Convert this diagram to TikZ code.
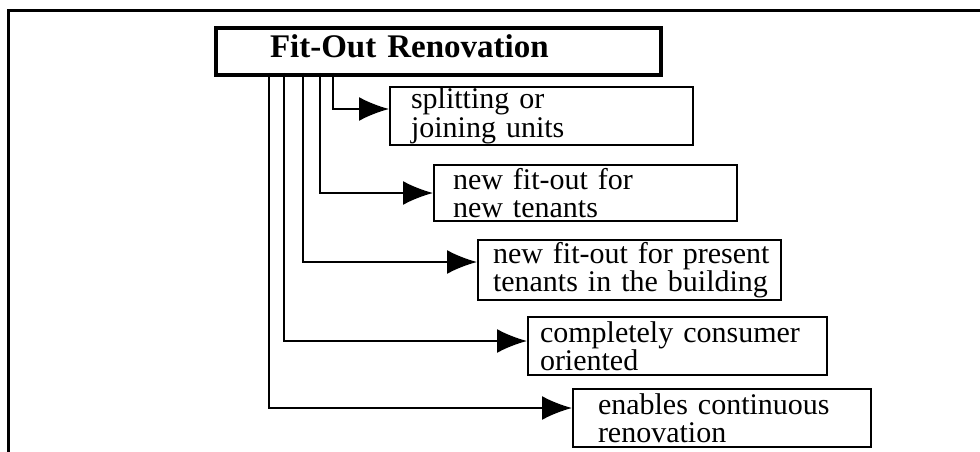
\documentclass[tikz,border=0pt]{standalone}
\usepackage{fontspec}
\setmainfont{Liberation Serif}
\usetikzlibrary{arrows.meta}
\begin{document}
\begin{tikzpicture}[x=1pt,y=-1pt,
  item/.style={draw, line width=2pt, anchor=north west, inner ysep=0pt, align=left,
    font=\fontsize{30}{28.5}\selectfont},
  conn/.style={line width=2pt, -{Latex[length=30pt,width=24pt]}}]
\useasboundingbox (0,0) rectangle (980,452);
\draw[line width=3pt] (8,452) -- (8,11) -- (980,11);
\node[draw, line width=4pt, anchor=north west, minimum height=47pt, inner xsep=54pt,
  text width=337pt, align=left, text depth=11pt, inner ysep=0pt,
  font=\fontsize{33}{36}\selectfont\bfseries] (title) at (214,26) {Fit-Out Renovation};
\node[item, minimum height=58pt, inner xsep=21pt, text width=261pt] (b1) at (389,86) {\mbox{splitting or}\\\mbox{joining units}};
\node[item, minimum height=56pt, inner xsep=19pt, text width=265pt] (b2) at (433,164) {\mbox{new fit-out for}\\\mbox{new tenants}};
\node[item, minimum height=60pt, inner xsep=15pt, text width=273pt] (b3) at (477,239) {\mbox{new fit-out for present}\\\mbox{tenants in the building}};
\node[item, minimum height=58pt, inner xsep=12pt, text width=275pt] (b4) at (527,316) {\mbox{completely consumer}\\\mbox{oriented}};
\node[item, minimum height=58pt, inner xsep=25pt, text width=248pt] (b5) at (572,388) {\mbox{enables continuous}\\\mbox{renovation}};
\coordinate (v1) at (333,73);
\coordinate (v2) at (320,73);
\coordinate (v3) at (303,73);
\coordinate (v4) at (284,73);
\coordinate (v5) at (269,73);
\draw[conn] (v1) |- ([yshift=7pt]b1.west);
\draw[conn] (v2) |- (b2.west);
\draw[conn] (v3) |- ([yshift=8pt]b3.west);
\draw[conn] (v4) |- ([yshift=5pt]b4.west);
\draw[conn] (v5) |- ([yshift=10pt]b5.west);
\end{tikzpicture}
\end{document}
